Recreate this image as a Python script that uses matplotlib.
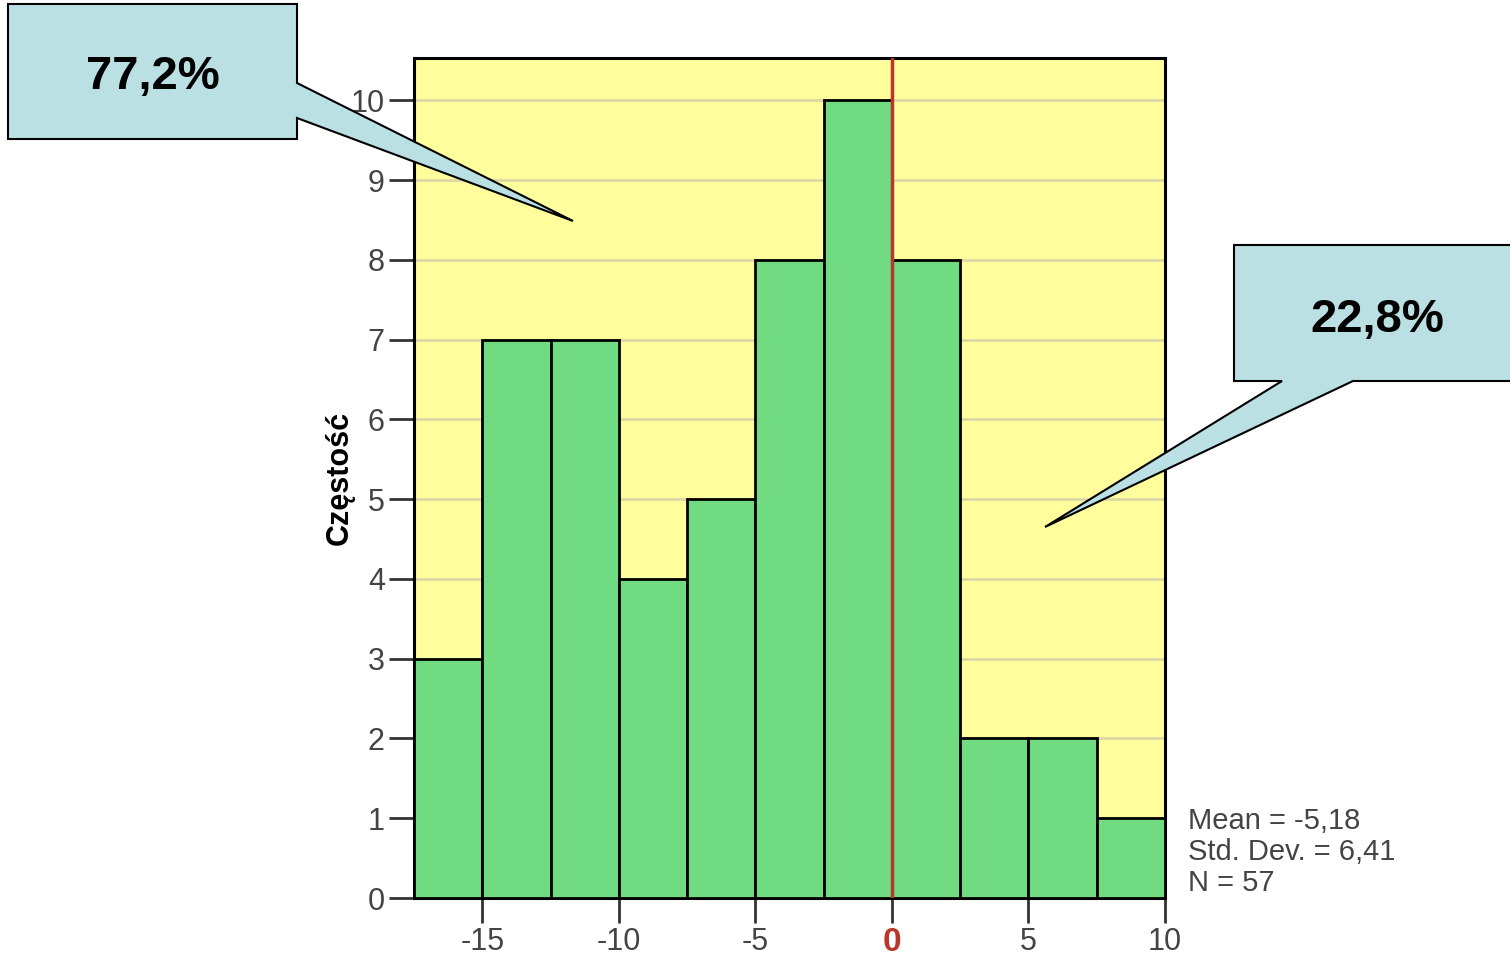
import matplotlib
matplotlib.use("Agg")
import matplotlib.pyplot as plt
from matplotlib.patches import Polygon
import numpy as np

plt.rcParams['font.family'] = ['Liberation Sans', 'DejaVu Sans']

# histogram data
bin_edges = [-17.5, -15, -12.5, -10, -7.5, -5, -2.5, 0, 2.5, 5, 7.5, 10]
counts = [3, 7, 7, 4, 5, 8, 10, 8, 2, 2, 1]
x_ticks = [-15, -10, -5, 0, 5, 10]
y_ticks = list(range(0, 11))
stats_text = "Mean = -5,18\nStd. Dev. = 6,41\nN = 57"
left_pct = "77,2%"
right_pct = "22,8%"

W, H = 1510, 957
fig = plt.figure(figsize=(W / 100, H / 100), dpi=100)
ax = fig.add_axes([414 / W, 1 - 898 / H, (1165 - 414) / W, (898 - 58) / H])
ax.set_facecolor("#FFFD9C")

widths = np.diff(bin_edges)
ax.bar(bin_edges[:-1], counts, width=widths, align="edge", color="#70DB80",
       edgecolor="black", linewidth=2, zorder=3)

for y in y_ticks[1:]:
    ax.axhline(y, color="#DCD8A6", linewidth=2, zorder=1)

ax.axvline(0, color="#B8372A", linewidth=2.5, zorder=4)

ax.set_xlim(bin_edges[0], bin_edges[-1])
ax.set_ylim(0, 10.53)
ax.set_xticks(x_ticks)
ax.set_xticklabels([str(t) for t in x_ticks])
ax.set_yticks(y_ticks)
ax.tick_params(axis="both", direction="out", length=18, width=2, color="#333333",
               labelsize=22, labelcolor="#444444", pad=3)
for lbl, t in zip(ax.get_xticklabels(), x_ticks):
    if t == 0:
        lbl.set_color("#B8372A")
        lbl.set_fontweight("bold")
        lbl.set_fontsize(24)
for tk, t in zip(ax.xaxis.get_major_ticks(), x_ticks):
    if t == 0:
        tk.tick1line.set_color("#B8372A")
for s in ax.spines.values():
    s.set_linewidth(2.2)
    s.set_color("black")

ax.set_ylabel("Częstość", fontsize=22, fontweight="bold", labelpad=-3)

fig.text(1188 / W, 1 - 807 / H, stats_text, fontsize=21, color="#444444",
         va="top", ha="left", linespacing=1.13)


def px(pts):
    return [(x / W, 1 - y / H) for x, y in pts]


callout1 = [(8, 4), (297, 4), (297, 83), (573, 221), (297, 118), (297, 139), (8, 139)]
callout2 = [(1234, 245), (1520, 245), (1520, 381), (1353, 381), (1045, 527),
            (1282, 381), (1234, 381)]
for pts in (callout1, callout2):
    fig.patches.append(Polygon(px(pts), closed=True, transform=fig.transFigure,
                               facecolor="#BAE0E3", edgecolor="black",
                               linewidth=1.5, zorder=10))

fig.text(153 / W, 1 - 77 / H, left_pct, fontsize=34, fontweight="bold",
         ha="center", va="center", zorder=11)
fig.text(1377 / W, 1 - 320 / H, right_pct, fontsize=34, fontweight="bold",
         ha="center", va="center", zorder=11)

fig.savefig("out.png", dpi=100)
